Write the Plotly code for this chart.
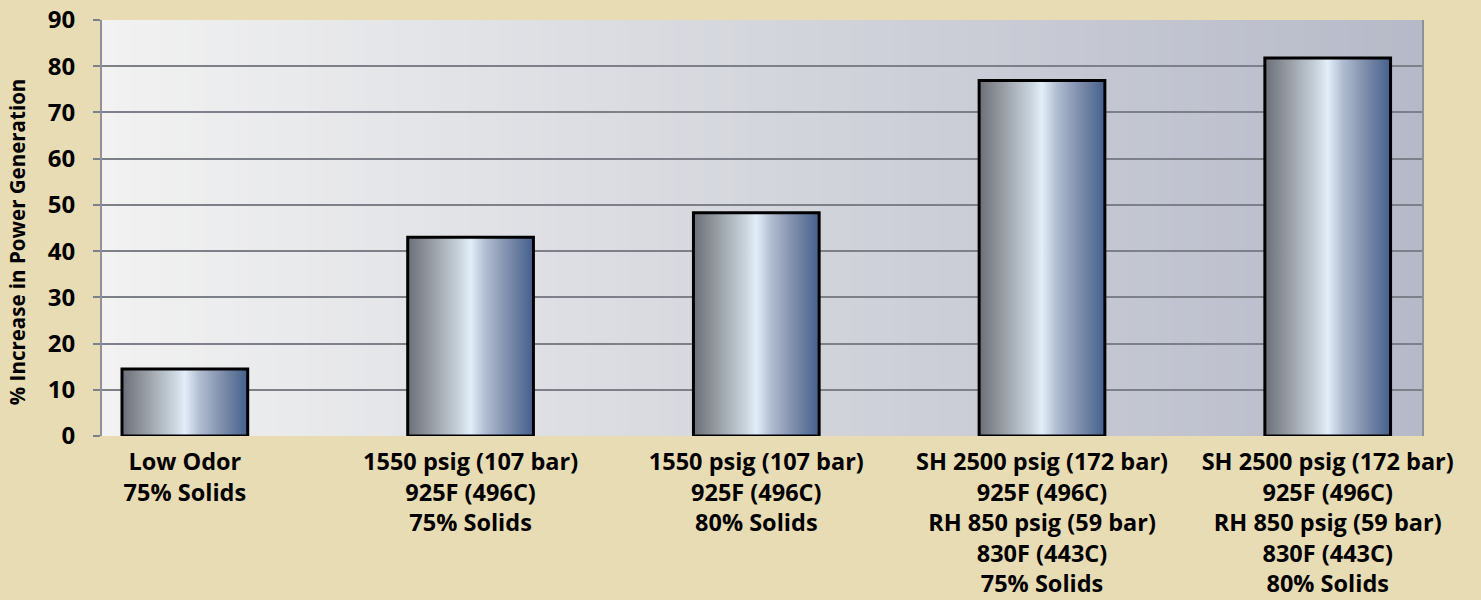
import plotly.graph_objects as go

categories = [
    "Low Odor<br>75% Solids",
    "1550 psig (107 bar)<br>925F (496C)<br>75% Solids",
    "1550 psig (107 bar)<br>925F (496C)<br>80% Solids",
    "SH 2500 psig (172 bar)<br>925F (496C)<br>RH 850 psig (59 bar)<br>830F (443C)<br>75% Solids",
    "SH 2500 psig (172 bar)<br>925F (496C)<br>RH 850 psig (59 bar)<br>830F (443C)<br>80% Solids",
]
values = [14.5, 43, 48.3, 76.9, 81.8]
y_ticks = [0, 10, 20, 30, 40, 50, 60, 70, 80, 90]
y_title = "% Increase in Power Generation"

FONT = "Open Sans"
bar_width = 0.44
bar_scale = [[0, "#6b7078"], [0.2, "#9a9fa6"], [0.42, "#cbd6df"], [0.5, "#e4eef9"],
             [0.62, "#b0bcd0"], [0.8, "#7e8dab"], [1, "#44608c"]]

fig = go.Figure()
for i, v in enumerate(values):
    x0, x1 = i - bar_width / 2, i + bar_width / 2
    fig.add_trace(go.Scatter(
        x=[x0, x0, x1, x1, x0], y=[0, v, v, 0, 0],
        mode="lines", fill="toself",
        fillgradient=dict(type="horizontal", colorscale=bar_scale),
        line=dict(color="#000000", width=3),
        hoverinfo="skip", showlegend=False,
    ))

# plot-area background gradient (below gridlines)
N = 90
c0 = (0xf2, 0xf2, 0xf2)
c1 = (0xb6, 0xba, 0xc8)
shapes = []
for k in range(N):
    t = (k + 0.5) / N
    col = tuple(round(a + (b - a) * t) for a, b in zip(c0, c1))
    shapes.append(dict(type="rect", xref="paper", yref="paper",
                       x0=k / N, x1=min(1, (k + 1.6) / N), y0=0, y1=1,
                       fillcolor="rgb(%d,%d,%d)" % col, line=dict(width=0), layer="below"))

fig.update_layout(
    width=1481, height=600,
    margin=dict(l=102, r=59, t=20, b=164),
    paper_bgcolor="#e8dcb5",
    plot_bgcolor="#e5e5e5",
    shapes=shapes,
    font=dict(family=FONT, color="#000000"),
    xaxis=dict(
        range=[-0.29, 4.33], tickmode="array", tickvals=list(range(len(categories))),
        ticktext=categories, showgrid=False, zeroline=False, showline=False,
        ticks="outside", ticklen=5, tickcolor="rgba(0,0,0,0)", automargin=False,
        tickfont=dict(family=FONT, size=23.5, color="#000000", weight="bold"),
    ),
    yaxis=dict(
        range=[0, 90], tickmode="array", tickvals=y_ticks, automargin=False,
        showgrid=True, gridcolor="#7d8088", gridwidth=2,
        zeroline=False, showline=True, linecolor="#8e9198", linewidth=2, mirror=True,
        ticks="outside", ticklen=7, tickwidth=2, tickcolor="#7d8088",
        ticklabelstandoff=13,
        tickfont=dict(family=FONT, size=24, color="#000000", weight="bold"),
    ),
    annotations=[dict(
        text=y_title, textangle=-90, showarrow=False,
        xref="paper", yref="paper", x=-0.0645, y=0.468,
        xanchor="center", yanchor="middle",
        font=dict(family=FONT, size=20.5, color="#000000", weight="bold"),
    )],
)

fig.write_html("out.html", config={"displayModeBar": False},
               post_script="document.body.style.margin='0';document.body.style.overflow='hidden';")
